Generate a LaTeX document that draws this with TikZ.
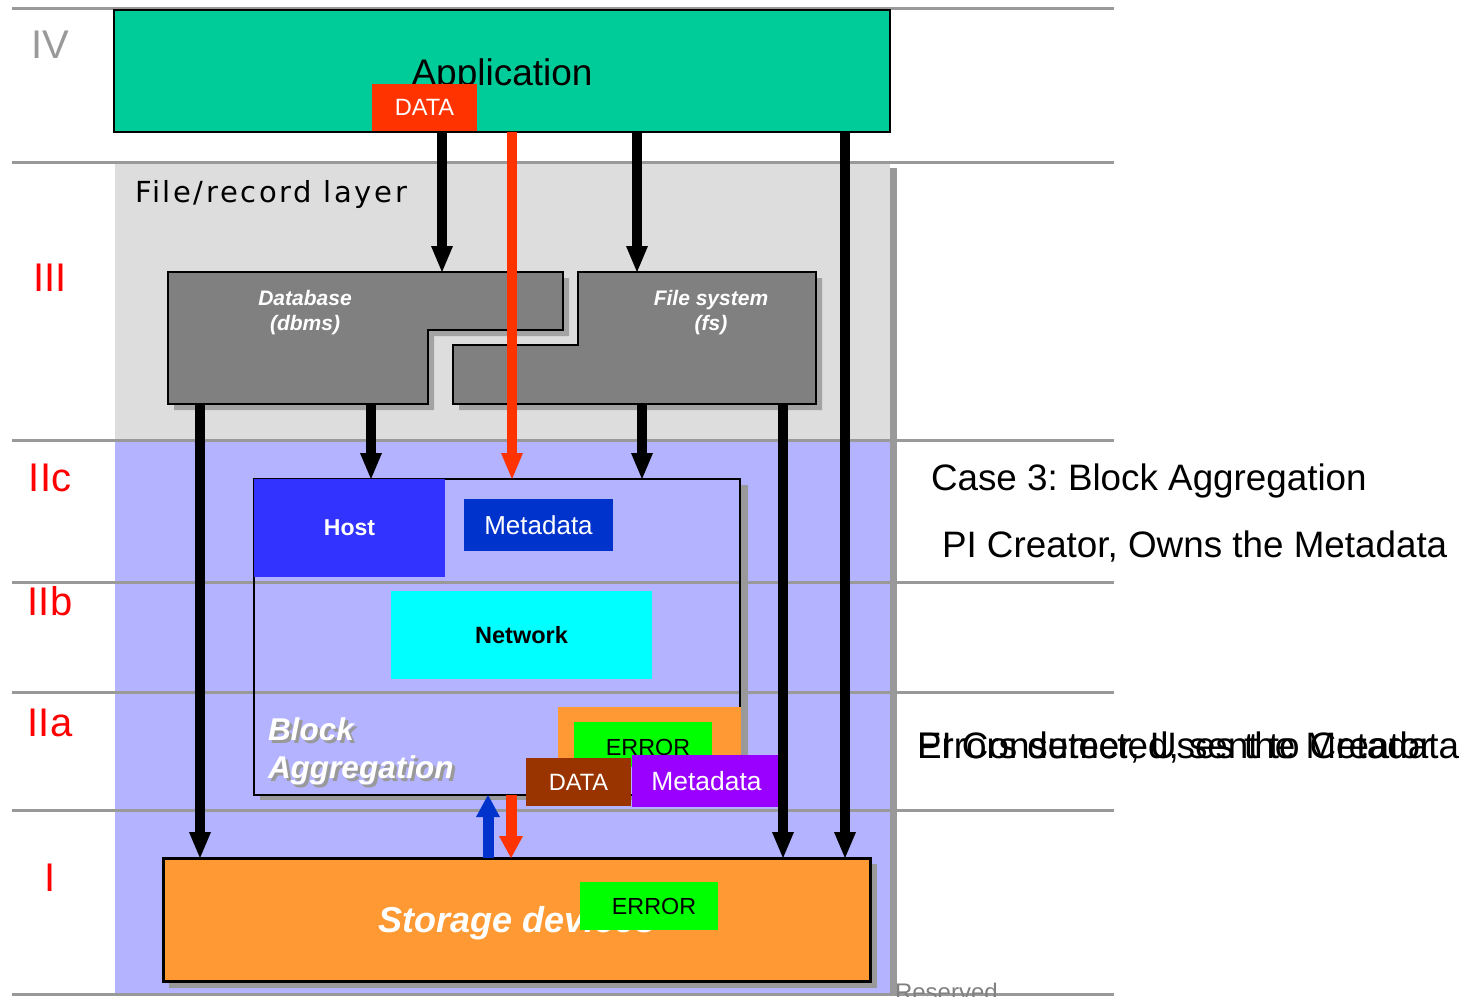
\documentclass[tikz,border=0pt]{standalone}
\usepackage{fontspec}
\setmainfont{Liberation Sans}
\newfontfamily\dvsw[LetterSpace=9]{DejaVu Sans}
\usetikzlibrary{arrows.meta}
\newcommand{\pxs}[1]{\fontsize{#1pt}{#1pt}\selectfont}
\frenchspacing
\definecolor{linegray}{HTML}{999999}
\definecolor{filebg}{HTML}{DDDDDD}
\definecolor{lav}{HTML}{B3B3FF}
\definecolor{appgreen}{HTML}{00CC99}
\definecolor{dred}{HTML}{FF3300}
\definecolor{dbgray}{HTML}{808080}
\definecolor{shadowgray}{HTML}{A3A3A3}
\definecolor{hostblue}{HTML}{3333FF}
\definecolor{metablue}{HTML}{0033CC}
\definecolor{netcyan}{HTML}{00FFFF}
\definecolor{orng}{HTML}{FF9933}
\definecolor{grn}{HTML}{00FF00}
\definecolor{brwn}{HTML}{993300}
\definecolor{purp}{HTML}{9900FF}
\begin{document}
\frenchspacing
\begin{tikzpicture}[x=1pt,y=-1pt,
  gl/.style={draw=linegray,line width=3pt},
  bx/.style={inner sep=0pt,outer sep=0pt,anchor=north west},
  txt/.style={inner sep=0pt,outer sep=0pt},
  roman/.style={txt,font=\pxs{40},text=red},
  barrow/.style={line width=10pt,-{Triangle[length=26pt,width=22pt,line width=0pt]}},
  rarrow/.style={draw=dred,line width=10pt,-{Triangle[length=26pt,width=22pt,line width=0pt]}},
  smallarrow/.style={line width=11pt,-{Triangle[length=22pt,width=24pt,line width=0pt]}},
  boxtxt/.style={txt,text=white,font=\pxs{23.6}},
  dbtext/.style={txt,text=white,align=center,font=\bfseries\itshape\fontsize{21pt}{25pt}\selectfont},
  sidetext/.style={txt,anchor=base west,font=\frenchspacing\pxs{36.8}}
]
\useasboundingbox (0,0) rectangle (1479,996);
\fill[white] (0,0) rectangle (1479,996);
% layer backgrounds
\fill[filebg] (115,163) rectangle (890,440);
\fill[lav] (115,440) rectangle (890,996);
\fill[linegray] (890,168) rectangle (897,996);
\foreach \yy in {8,162,440,582,692,810,994} \draw[gl] (12,\yy) -- (1114,\yy);

% layer labels
\node[roman,text=linegray] (rIV) at (50,45) {IV};
\node[roman] (rIII) at (50,278) {III};
\node[roman] (rIIc) at (50,478) {IIc};
\node[roman] (rIIb) at (50,601) {IIb};
\node[roman] (rIIa) at (50,723) {IIa};
\node[roman] (rI) at (50,878) {I};

% application
\node[bx,draw=black,line width=2pt,fill=appgreen,minimum width=776pt,minimum height=122pt] (app) at (114,10) {};
\node[txt,anchor=base,font=\pxs{37}] (apptxt) at (502,85) {Application};
\node[bx,fill=dred,minimum width=105pt,minimum height=47pt] (data1) at (372,84) {};
\node[boxtxt] (data1t) at (data1.center) {DATA};

% file/record layer
\node[txt,anchor=base west,font=\dvsw\pxs{29}] (frl) at (135,202) {File/record layer};

% database and file system shapes
\begin{scope}[shift={(6,6)}]
\fill[shadowgray] (168,272) -- (563,272) -- (563,330) -- (428,330) -- (428,404) -- (168,404) -- cycle;
\fill[shadowgray] (578,272) -- (816,272) -- (816,404) -- (453,404) -- (453,345) -- (578,345) -- cycle;
\end{scope}
\filldraw[fill=dbgray,draw=black,line width=2pt] (168,272) -- (563,272) -- (563,330) -- (428,330) -- (428,404) -- (168,404) -- cycle;
\filldraw[fill=dbgray,draw=black,line width=2pt] (578,272) -- (816,272) -- (816,404) -- (453,404) -- (453,345) -- (578,345) -- cycle;
\coordinate (dbtop) at (168,272);
\coordinate (dbbot) at (168,404);
\node[dbtext] (dbt) at (305,313) {Database\\(dbms)};
\node[dbtext] (fst) at (711,313) {File system\\(fs)};

% block aggregation
\fill[linegray] (741,485) rectangle (748,800);
\fill[linegray] (260,795) rectangle (748,800);
\node[bx,draw=black,line width=2pt,minimum width=486pt,minimum height=316pt] (blk) at (254,479) {};
\node[bx,fill=hostblue,minimum width=191pt,minimum height=98pt] (host) at (254,479) {};
\node[txt,text=white,font=\bfseries\pxs{23}] (hostt) at (host.center) {Host};
\node[bx,fill=metablue,minimum width=149pt,minimum height=52pt] (meta1) at (464,499) {};
\node[txt,text=white,font=\pxs{26}] (meta1t) at (meta1.center) {Metadata};
\node[bx,fill=netcyan,minimum width=261pt,minimum height=88pt] (net) at (391,591) {};
\node[txt,font=\bfseries\pxs{23.5}] (nett) at (net.center) {Network};
\node[txt,anchor=north west,align=left,text=linegray,font=\bfseries\itshape\fontsize{31.5pt}{38pt}\selectfont] (bagsh) at (271,721) {Block\\Aggregation};
\node[txt,anchor=north west,align=left,text=white,font=\bfseries\itshape\fontsize{31.5pt}{38pt}\selectfont] (bag) at (268,718) {Block\\Aggregation};
\node[bx,fill=orng,minimum width=183pt,minimum height=55pt] (orb) at (558,707) {};
\node[bx,fill=grn,minimum width=138pt,minimum height=45pt] (err1) at (574,722) {};
\node[txt,font=\pxs{23.3}] (err1t) at (648,747) {ERROR};
\node[bx,fill=brwn,minimum width=105pt,minimum height=48pt] (data2) at (526,758) {};
\node[boxtxt] (data2t) at (data2.center) {DATA};
\node[bx,fill=purp,minimum width=149pt,minimum height=52pt] (meta2) at (632,755) {};
\node[txt,text=white,font=\pxs{26.4}] (meta2t) at (meta2.center) {Metadata};

% storage devices
\fill[linegray] (169,864) rectangle (877,988);
\node[bx,draw=black,line width=3pt,fill=orng,minimum width=707pt,minimum height=123pt] (stor) at (163,858) {};
\node[txt,anchor=base,text=white,font=\bfseries\itshape\pxs{36}] (stort) at (517,932) {Storage devices};
\node[bx,fill=grn,minimum width=138pt,minimum height=48pt] (err2) at (580,882) {};
\node[txt,font=\pxs{23.3}] (err2t) at (654,906) {ERROR};

% arrow columns
\coordinate (c200) at (200,0);
\coordinate (c371) at (371,0);
\coordinate (c442) at (442,0);
\coordinate (c488) at (488,0);
\coordinate (c511) at (511,0);
\coordinate (c512) at (512,0);
\coordinate (c637) at (637,0);
\coordinate (c642) at (642,0);
\coordinate (c783) at (783,0);
\coordinate (c845) at (845,0);

\draw[barrow] (c442 |- app.south) -- (c442 |- dbtop);
\draw[barrow] (c637 |- app.south) -- (c637 |- dbtop);
\draw[barrow] (c845 |- app.south) -- (c845 |- stor.north);
\draw[rarrow] (c512 |- app.south) -- (c512 |- blk.north);
\draw[barrow] (c200 |- dbbot) -- (c200 |- stor.north);
\draw[barrow] (c371 |- dbbot) -- (c371 |- blk.north);
\draw[barrow] (c642 |- dbbot) -- (c642 |- blk.north);
\draw[barrow] (c783 |- dbbot) -- (c783 |- stor.north);
\draw[smallarrow,draw=metablue] (c488 |- stor.north) -- (c488 |- blk.south);
\draw[smallarrow,draw=dred] (c511 |- blk.south) -- (c511 |- stor.north);

% side texts
\node[sidetext] (case) at (931,490) {Case 3: Block Aggregation};
\node[sidetext] (creator) at (942,557) {PI Creator, Owns the Metadata};
\node[sidetext] (consumer) at (917,758) {PI Consumer, Uses the Metadata};
\node[sidetext] (errs) at (917,758) {Errors detected, sent to Creator};
\node[txt,anchor=base west,text=gray,font=\pxs{24}] (res) at (895,1000) {Reserved};
\end{tikzpicture}
\end{document}
